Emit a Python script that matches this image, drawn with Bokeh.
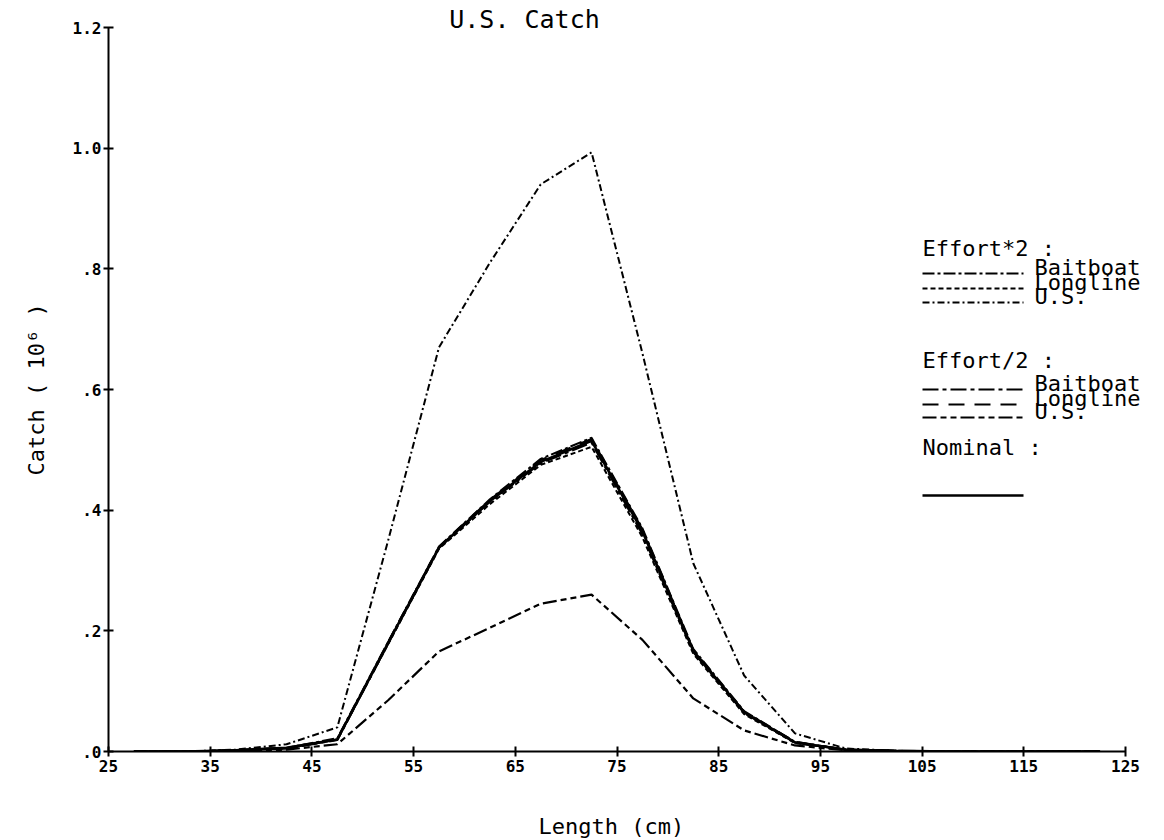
from bokeh.plotting import figure
from bokeh.models import FixedTicker, Label, Title
from bokeh.embed import file_html
from bokeh.resources import INLINE

# ---- data (length class midpoints, catch in 10^6) ----
length = [27.5, 32.5, 37.5, 42.5, 47.5, 52.5, 57.5, 62.5, 67.5, 72.5,
          77.5, 82.5, 87.5, 92.5, 97.5, 102.5, 107.5, 112.5, 117.5, 122.5]

nominal = [0, 0, 0.002, 0.006, 0.020, 0.180, 0.338, 0.415, 0.480, 0.515,
           0.365, 0.167, 0.065, 0.015, 0.003, 0.001, 0, 0, 0, 0]

e2_baitboat = [0, 0, 0.002, 0.006, 0.022, 0.182, 0.340, 0.418, 0.485, 0.520,
               0.370, 0.170, 0.067, 0.016, 0.003, 0.001, 0, 0, 0, 0]
e2_longline = [0, 0, 0.002, 0.005, 0.020, 0.178, 0.336, 0.410, 0.475, 0.505,
               0.355, 0.162, 0.062, 0.014, 0.003, 0.001, 0, 0, 0, 0]
e2_us = [0, 0, 0.003, 0.012, 0.040, 0.350, 0.670, 0.810, 0.940, 0.993,
         0.660, 0.312, 0.126, 0.030, 0.005, 0.001, 0, 0, 0, 0]

eh_baitboat = [0, 0, 0.002, 0.005, 0.019, 0.179, 0.338, 0.414, 0.478, 0.512,
               0.360, 0.165, 0.064, 0.015, 0.003, 0.001, 0, 0, 0, 0]
eh_longline = [0, 0, 0.002, 0.006, 0.020, 0.181, 0.339, 0.417, 0.483, 0.518,
               0.368, 0.168, 0.066, 0.016, 0.003, 0.001, 0, 0, 0, 0]
eh_us = [0, 0, 0.001, 0.003, 0.012, 0.085, 0.166, 0.205, 0.245, 0.260,
         0.185, 0.088, 0.035, 0.010, 0.002, 0, 0, 0, 0, 0]

x_ticks = [25, 35, 45, 55, 65, 75, 85, 95, 105, 115, 125]
y_ticks = [0.0, 0.2, 0.4, 0.6, 0.8, 1.0, 1.2]
y_tick_labels = [".0", ".2", ".4", ".6", ".8", "1.0", "1.2"]

# ---- layout ----
W = 1160
AX_L, AX_T, AX_R, AX_B = 108, 27, 1125, 751   # axes box in pixels
X0, X1, Y0, Y1 = 25, 125, 0, 1.2

def px2x(px):
    return X0 + (px - AX_L) / (AX_R - AX_L) * (X1 - X0)

def px2y(py):
    return Y0 + (AX_B - py) / (AX_B - AX_T) * (Y1 - Y0)

MONO = "DejaVu Sans Mono"

# frame covers the whole area right of / above the axes so that the
# title and legend texts (drawn as labels) are not clipped
p = figure(frame_width=W - AX_L, frame_height=AX_B,
           output_backend="svg", toolbar_location=None,
           x_range=(X0, px2x(W)), y_range=(Y0, px2y(0)),
           min_border_left=AX_L, min_border_top=0,
           min_border_right=0, min_border_bottom=0)
p.outline_line_color = None
p.grid.grid_line_color = None
p.background_fill_color = "white"
p.border_fill_color = "white"

for ax in (p.xaxis, p.yaxis):
    ax.axis_line_width = 2
    ax.axis_line_color = "black"
    ax.major_tick_line_width = 2
    ax.major_tick_line_color = "black"
    ax.major_tick_in = 5
    ax.major_tick_out = 5
    ax.minor_tick_line_color = None
    ax.major_label_text_font = MONO
    ax.major_label_text_font_style = "bold"
    ax.major_label_text_font_size = "16px"
    ax.major_label_text_color = "black"

p.xaxis.bounds = (X0, X1)
p.yaxis.bounds = (Y0, Y1)
p.xaxis.ticker = FixedTicker(ticks=x_ticks)
p.yaxis.ticker = FixedTicker(ticks=y_ticks)
p.yaxis.major_label_overrides = {t: l for t, l in zip(y_ticks, y_tick_labels)}
p.xaxis.major_label_standoff = 3
p.yaxis.major_label_standoff = 2

# axis titles as Title objects in the side panels (exact placement)
p.add_layout(Title(text="Length (cm)", align="left", offset=430, standoff=74,
                   text_font=MONO, text_font_size="22px",
                   text_font_style="normal", text_color="black"), "below")
p.add_layout(Title(text="Catch ( 10\u2076 )", align="left", offset=276,
                   standoff=42, text_font=MONO, text_font_size="22px",
                   text_font_style="normal", text_color="black"), "left")

series = [
    (e2_us, "7 3 2 3", 2),
    (e2_baitboat, "12 3 3 3", 2),
    (e2_longline, "5 3", 2),
    (eh_baitboat, "16 4 4 4", 2.2),
    (eh_longline, "16 10", 2.2),
    (eh_us, "14 4 6 4 6 4", 2.2),
    (nominal, "solid", 2.6),
]
for ys, dash, w in series:
    p.line(length, ys, line_color="black", line_width=w, line_dash=dash)

# ---- title ----
p.add_layout(Label(x=px2x(524), y=px2y(19), text="U.S. Catch",
                   text_font=MONO, text_font_size="25px",
                   text_align="center", text_baseline="middle",
                   text_color="black"))

# ---- legend (drawn by hand) ----
LX0, LX1, LT = 922, 1023, 1034
legend_rows = [
    ("head", "Effort*2 :", 248, None),
    ("row", "Baitboat", 267, "12 3 3 3"),
    ("row", "Longline", 282, "5 3"),
    ("row", "U.S.", 296, "7 3 2 3"),
    ("head", "Effort/2 :", 360, None),
    ("row", "Baitboat", 383, "16 4 4 4"),
    ("row", "Longline", 398, "16 10"),
    ("row", "U.S.", 411, "14 4 6 4 6 4"),
    ("head", "Nominal :", 447, None),
]
for kind, txt, yy, dash in legend_rows:
    if kind == "head":
        p.add_layout(Label(x=px2x(LX0), y=px2y(yy), text=txt, text_font=MONO,
                           text_font_size="22px", text_baseline="middle",
                           text_color="black"))
    else:
        p.line([px2x(LX0), px2x(LX1)], [px2y(yy + 6), px2y(yy + 6)],
               line_color="black", line_width=2, line_dash=dash)
        p.add_layout(Label(x=px2x(LT), y=px2y(yy), text=txt, text_font=MONO,
                           text_font_size="22px", text_baseline="middle",
                           text_color="black"))
p.line([px2x(LX0), px2x(LX1)], [px2y(495), px2y(495)],
       line_color="black", line_width=2.4)

open("out.html", "w").write(file_html(p, INLINE))
